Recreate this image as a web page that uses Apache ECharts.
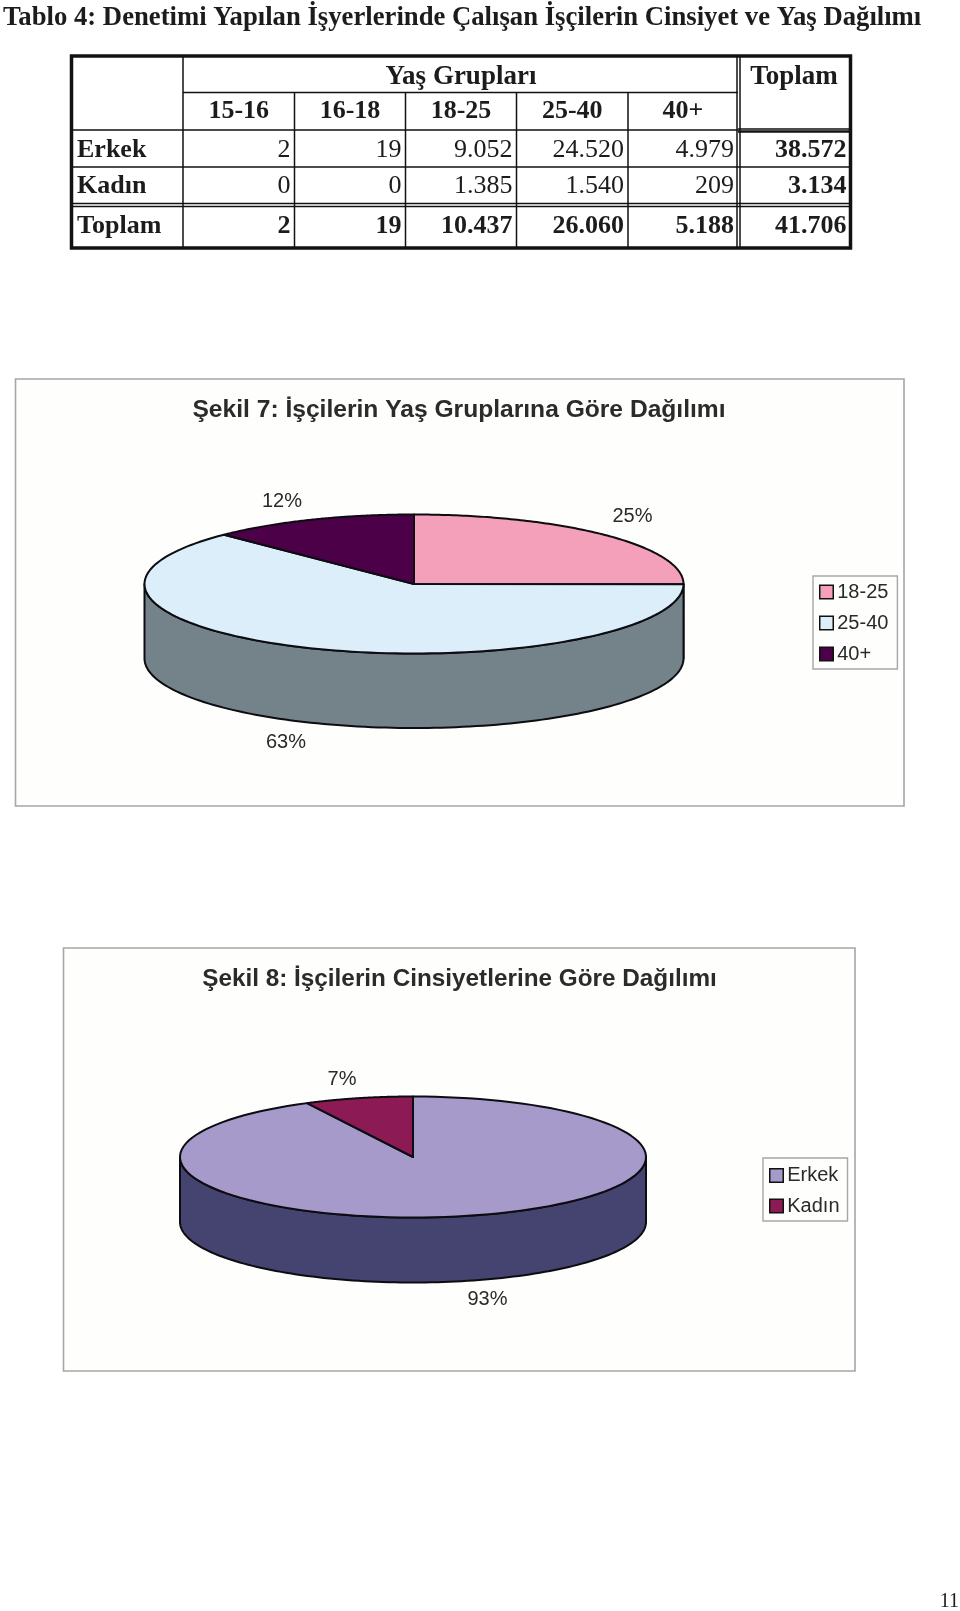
<!DOCTYPE html>
<html><head><meta charset="utf-8">
<style>html,body{margin:0;padding:0;background:#fff}#c{width:960px;height:1611px}</style>
<script src="https://cdn.jsdelivr.net/npm/echarts@6/dist/echarts.min.js"></script>
</head><body><div id="c"></div>
<script>
const tableTitle = 'Tablo 4: Denetimi Yapılan İşyerlerinde Çalışan İşçilerin Cinsiyet ve Yaş Dağılımı';
const ageGroups = ['15-16','16-18','18-25','25-40','40+'];
const rowErkek = ['Erkek','2','19','9.052','24.520','4.979','38.572'];
const rowKadin = ['Kadın','0','0','1.385','1.540','209','3.134'];
const rowToplam = ['Toplam','2','19','10.437','26.060','5.188','41.706'];

const ageNames = ['18-25','25-40','40+'];
const ageValues = [10437,26060,5188];
const ageLabels = ['25%','63%','12%'];
const genderNames = ['Erkek','Kadın'];
const genderValues = [38572,3134];
const genderLabels = ['93%','7%'];

const SANS = '"Liberation Sans", Arial, sans-serif';
const SERIF = '"Liberation Serif", "Times New Roman", serif';
const INK = '#1c1c1c';

/* ---------- table ---------- */
const colX = [71.5,183,294.5,405.5,516.5,628,738,850.5];
const rowY = [56,92.5,130,167,205,248];
const tableEls = [];
function line(x1,y1,x2,y2,w,c){tableEls.push({type:'line',z:1,shape:{x1,y1,x2,y2},style:{stroke:c||'#111',lineWidth:w}});}
function txt(t,x,y,align,bold,size){tableEls.push({type:'text',z:2,x,y,style:{text:t,fontFamily:SERIF,fontSize:size||26,fontWeight:bold?'bold':'normal',fill:INK,align,verticalAlign:'middle'}});}
line(colX[1],rowY[1],colX[6],rowY[1],1.5);
line(colX[0],rowY[2],colX[6],rowY[2],1.5);
line(colX[6],rowY[2]-1,colX[7],rowY[2]-1,1.5);
line(colX[6],rowY[2]+1.5,colX[7],rowY[2]+1.5,2.6);
line(colX[0],rowY[3],colX[7],rowY[3],1.5);
line(colX[0],rowY[4]-1.5,colX[7],rowY[4]-1.5,1.5);
line(colX[0],rowY[4]+1.5,colX[7],rowY[4]+1.5,1.5);
for(let i=2;i<=5;i++){ line(colX[i],rowY[1],colX[i],rowY[5],1.5); }
line(colX[1],rowY[0],colX[1],rowY[5],1.5);
line(colX[6]-1,rowY[0],colX[6]-1,rowY[5],1.5);
line(colX[6]+2,rowY[0],colX[6]+2,rowY[5],1.5);
tableEls.push({type:'rect',z:3,shape:{x:colX[0],y:rowY[0],width:colX[7]-colX[0],height:rowY[5]-rowY[0]},style:{fill:'none',stroke:'#111',lineWidth:3.5}});
txt('Yaş Grupları',461,77.5,'center',true,27);
txt('Toplam',794,77.5,'center',true,27);
ageGroups.forEach((g,i)=>txt(g,(colX[i+1]+colX[i+2])/2,111.5,'center',true));
function row(cells,y,allBold){
  cells.forEach((c,i)=>{
    if(i===0) txt(c,77,y,'left',true);
    else txt(c,colX[i+1]-4,y,'right',allBold||i===6);
  });
}
row(rowErkek,150.5,false);
row(rowKadin,186.5,false);
row(rowToplam,226,true);
tableEls.push({type:'text',z:2,x:959,y:1602,style:{text:'11',fontFamily:SERIF,fontSize:20,fill:INK,align:'right',verticalAlign:'middle'}});

/* ---------- chart frames ---------- */
const frames = [
  {x:15.5,y:379,width:888.5,height:427},
  {x:63.5,y:948,width:791.5,height:423}
];
const frameEls = frames.map(f=>({type:'rect',z:0,shape:f,style:{fill:'#fefefc',stroke:'#a6a6a6',lineWidth:1.6}}));

/* ---------- oblique pies ---------- */
function pieSeries(names,values,labels,colors,sides,geo,labelPos){
  const total = values.reduce((a,b)=>a+b,0);
  return names.map((name,idx)=>{
    const before = values.slice(0,idx).reduce((a,b)=>a+b,0);
    return {
      type:'custom', name, coordinateSystem:'none', silent:true, z:2,
      itemStyle:{color:colors[idx]},
      data:[values[idx]],
      renderItem(params,api){
        const v = api.value(0);
        const a0 = -Math.PI/2 + before/total*2*Math.PI;
        const a1 = a0 + v/total*2*Math.PI;
        const pt = (a,dy)=>[geo.cx+geo.rx*Math.cos(a), geo.cy+geo.ry*Math.sin(a)+(dy||0)];
        const steps = 120;
        const top = [[geo.cx,geo.cy]];
        for(let s=0;s<=steps;s++) top.push(pt(a0+(a1-a0)*s/steps));
        const children = [];
        const f0 = Math.max(a0,0), f1 = Math.min(a1,Math.PI);
        if(f1>f0){
          const side=[];
          for(let s=0;s<=steps;s++) side.push(pt(f0+(f1-f0)*s/steps));
          for(let s=steps;s>=0;s--) side.push(pt(f0+(f1-f0)*s/steps,geo.depth));
          children.push({type:'polygon',shape:{points:side},style:{fill:sides[idx],stroke:'#0c0c12',lineWidth:2,lineJoin:'round'}});
        }
        children.push({type:'polygon',shape:{points:top},style:{fill:colors[idx],stroke:'#0c0c12',lineWidth:2,lineJoin:'round'}});
        children.push({type:'text',style:{text:labels[idx],x:labelPos[idx][0],y:labelPos[idx][1],fontFamily:SANS,fontSize:20,fill:'#2a2a2a',align:'center',verticalAlign:'middle'}});
        return {type:'group',children};
      }
    };
  });
}
const series = [
  ...pieSeries(ageNames,ageValues,ageLabels,['#f4a0ba','#dceefa','#4c0048'],['#a06a7c','#74838a','#33002f'],
    {cx:414,cy:584,rx:269.5,ry:69.5,depth:74.5},[[632.5,516],[286,742],[282,501]]),
  ...pieSeries(genderNames,genderValues,genderLabels,['#a59aca','#8b1a55'],['#45436f','#5c1038'],
    {cx:413,cy:1157,rx:233,ry:60.5,depth:65},[[487.5,1299],[342,1079]])
];

function legend(data,left,top,gap,padding){
  return {data,orient:'vertical',left,top,selectedMode:false,
    itemWidth:13.5,itemHeight:13.5,itemGap:gap,icon:'rect',
    padding,backgroundColor:'#fefefc',borderColor:'#a6a6a6',borderWidth:1.4,
    itemStyle:{borderColor:'#111',borderWidth:1.5},
    textStyle:{fontFamily:SANS,fontSize:20,color:'#2a2a2a',padding:[0,0,0,-1]}};
}

const TITLE_SANS = {fontFamily:SANS,fontWeight:'bold',color:'#2b2b2b'};
const option = {
  animation:false,
  backgroundColor:'#ffffff',
  title:[
    {text:tableTitle,left:3,top:5,padding:0,textStyle:{fontFamily:SERIF,fontSize:26.7,fontWeight:'bold',color:INK}},
    {text:'Şekil 7: İşçilerin Yaş Gruplarına Göre Dağılımı',left:454,top:393,textAlign:'center',textStyle:{...TITLE_SANS,fontSize:24.6}},
    {text:'Şekil 8: İşçilerin Cinsiyetlerine Göre Dağılımı',left:454.5,top:962,textAlign:'center',textStyle:{...TITLE_SANS,fontSize:24.3}}
  ],
  legend:[
    legend(ageNames,813,576,11,[6,9,5,6]),
    legend(genderNames,763,1158,10.5,[7.5,8,5,6])
  ],
  graphic:[{type:'group',elements:[...frameEls,...tableEls]}],
  series
};
const chart = echarts.init(document.getElementById('c'),null,{renderer:'canvas'});
chart.setOption(option);
</script></body></html>
